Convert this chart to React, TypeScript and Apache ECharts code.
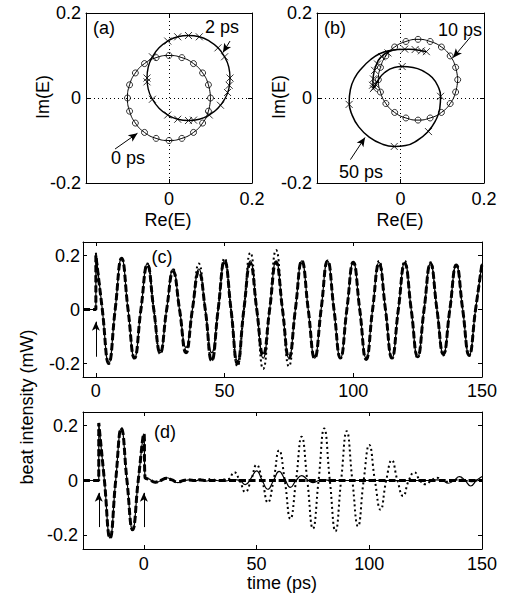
import React, { useEffect, useRef } from 'react';
import * as echarts from 'echarts';

const FONT = "'Liberation Sans', Arial, Helvetica, sans-serif";

// ---------- panel (a) ----------
// 0 ps trajectory (o markers)
const a0Re = [0.1, 0.095, 0.081, 0.059, 0.031, 0, -0.031, -0.059, -0.081, -0.095, -0.1, -0.095, -0.081, -0.059, -0.031, 0, 0.031, 0.059, 0.081, 0.095, 0.1];
const a0Im = [0, 0.031, 0.059, 0.081, 0.095, 0.1, 0.095, 0.081, 0.059, 0.031, 0, -0.031, -0.059, -0.081, -0.095, -0.1, -0.095, -0.081, -0.059, -0.031, 0];
// 2 ps trajectory (x markers)
const a2Re = [0.147, 0.144, 0.134, 0.118, 0.097, 0.073, 0.047, 0.021, -0.003, -0.024, -0.04, -0.05, -0.053, -0.05, -0.04, -0.024, -0.003, 0.021, 0.047, 0.073, 0.097, 0.118, 0.134, 0.144, 0.147];
const a2Im = [0.047, 0.073, 0.097, 0.118, 0.134, 0.144, 0.147, 0.144, 0.134, 0.118, 0.097, 0.073, 0.047, 0.021, -0.003, -0.024, -0.04, -0.05, -0.053, -0.05, -0.04, -0.024, -0.003, 0.021, 0.047];
const a2MarkRe = [0.047, 0.021, 0.073, -0.003, 0.118, -0.04, 0.134, -0.053, -0.053, 0.147, 0.145, 0.141, -0.04, -0.003, 0.021, 0.047, 0.059, 0.097, 0.124];
const a2MarkIm = [0.147, 0.144, 0.144, 0.134, 0.118, 0.097, 0.097, 0.047, 0.038, 0.047, 0.03, 0.013, -0.003, -0.04, -0.05, -0.053, -0.052, -0.04, -0.017];

// ---------- panel (b) ----------
// 10 ps trajectory (o markers)
const b10Re = [0.137, 0.132, 0.119, 0.098, 0.071, 0.042, 0.013, -0.014, -0.035, -0.048, -0.053, -0.048, -0.035, -0.014, 0.013, 0.042, 0.071, 0.098, 0.119, 0.132, 0.137];
const b10Im = [0.043, 0.072, 0.099, 0.12, 0.133, 0.138, 0.133, 0.12, 0.099, 0.072, 0.043, 0.014, -0.013, -0.034, -0.047, -0.052, -0.047, -0.034, -0.013, 0.014, 0.043];
// 50 ps trajectory (x markers)
const b50Re = [0.062, 0.04, 0.02, -0.005, -0.03, -0.048, -0.058, -0.064, -0.066, -0.065, -0.055, -0.038, -0.015, 0.004, 0.03, 0.055, 0.076, 0.09, 0.096, 0.094, 0.083, 0.065, 0.04, 0.012, -0.015, -0.045, -0.075, -0.1, -0.116, -0.123, -0.12, -0.11, -0.093, -0.072, -0.05, -0.025, 0.0];
const b50Im = [0.109, 0.113, 0.115, 0.114, 0.108, 0.095, 0.078, 0.058, 0.04, 0.022, 0.04, 0.06, 0.072, 0.074, 0.072, 0.063, 0.048, 0.027, 0.004, -0.025, -0.055, -0.08, -0.1, -0.112, -0.114, -0.108, -0.092, -0.068, -0.04, -0.01, 0.02, 0.047, 0.07, 0.09, 0.104, 0.112, 0.115];
const b50MarkRe = [-0.065, -0.062, -0.067, -0.06, -0.065, -0.062, -0.055, -0.045, -0.03, 0.01, 0.035, 0.05, 0.062, 0.004, 0.096, 0.067, -0.015, -0.123];
const b50MarkIm = [0.022, 0.026, 0.03, 0.032, 0.045, 0.065, 0.08, 0.097, 0.106, 0.115, 0.114, 0.111, 0.109, 0.074, 0.004, -0.079, -0.114, -0.015];

// ---------- panel (c) ----------
const cTime = [-5, 0, 0, 2.5, 5, 7.5, 10, 12.5, 15, 17.5, 20, 22.5, 25, 27.5, 30, 32.5, 35, 37.5, 40, 42.5, 45, 47.5, 50, 52.5, 55, 57.5, 60, 62.5, 65, 67.5, 70, 72.5, 75, 77.5, 80, 82.5, 85, 87.5, 90, 92.5, 95, 97.5, 100, 102.5, 105, 107.5, 110, 112.5, 115, 117.5, 120, 122.5, 125, 127.5, 130, 132.5, 135, 137.5, 140, 142.5, 145, 147.5, 150];
const cSolid = [0, 0, 0.21,
  0, -0.2, 0, 0.19, 0, -0.18, 0, 0.17, 0, -0.16, 0, 0.15, 0, -0.14, 0, 0.15, 0, -0.16, 0, 0.18,
  0, -0.19, 0, 0.18, 0, -0.18, 0, 0.18, 0, -0.18, 0, 0.18, 0, -0.18, 0, 0.18, 0, -0.18, 0, 0.175,
  0, -0.18, 0, 0.175, 0, -0.18, 0, 0.175, 0, -0.175, 0, 0.17, 0, -0.165, 0, 0.165, 0, -0.17, 0, 0.17];
const cDashed = [0, 0, 0.2,
  0, -0.2, 0, 0.19, 0, -0.18, 0, 0.165, 0, -0.16, 0, 0.14, 0, -0.16, 0, 0.14, 0, -0.19, 0, 0.18,
  0, -0.2, 0, 0.17, 0, -0.17, 0, 0.175, 0, -0.18, 0, 0.18, 0, -0.18, 0, 0.18, 0, -0.18, 0, 0.175,
  0, -0.185, 0, 0.17, 0, -0.18, 0, 0.17, 0, -0.175, 0, 0.17, 0, -0.165, 0, 0.165, 0, -0.17, 0, 0.17];
const cDotted = [0, 0, 0.21,
  0, -0.2, 0, 0.19, 0, -0.18, 0, 0.17, 0, -0.165, 0, 0.15, 0, -0.15, 0, 0.17, 0, -0.19, 0, 0.19,
  0, -0.21, 0, 0.21, 0, -0.22, 0, 0.22, 0, -0.21, 0, 0.18, 0, -0.18, 0, 0.18, 0, -0.18, 0, 0.175,
  0, -0.185, 0, 0.18, 0, -0.18, 0, 0.18, 0, -0.18, 0, 0.175, 0, -0.17, 0, 0.165, 0, -0.17, 0, 0.175];

// ---------- panel (d) ----------
const dTime = [-27, -20, -20, -17.5, -15, -12.5, -10, -7.5, -5, -2.5, 0, 0.5,
  2.5, 5, 7.5, 10, 12.5, 15, 17.5, 20, 22.5, 25, 27.5, 30, 32.5, 35, 37.5, 40, 42.5, 45, 47.5, 50, 52.5, 55, 57.5, 60, 62.5, 65, 67.5, 70, 72.5, 75, 77.5, 80, 82.5, 85, 87.5, 90, 92.5, 95, 97.5, 100, 102.5, 105, 107.5, 110, 112.5, 115, 117.5, 120, 122.5, 125, 127.5, 130, 132.5, 135, 137.5, 140, 142.5, 145, 147.5, 150];
const dSolid = [0, 0, 0.21, 0, -0.21, 0, 0.19, 0, -0.18, 0, 0.17, 0.012,
  0.005, -0.008, 0, 0.01, 0.003, -0.008, -0.002, 0.002, -0.002, 0.003, -0.002, 0.002, 0, -0.002, 0, 0.003,
  0, -0.015, 0.008, 0.035, 0, -0.032, 0, 0.033, 0.005, -0.025, 0, 0.018, 0.004, -0.008, 0, 0.003,
  0, 0, 0, 0, 0, 0, 0, 0, 0, 0, 0, 0, 0, 0, 0, 0, 0, 0, 0, 0.002,
  0, -0.01, 0, 0.014, 0, -0.02, 0, 0.015];
const dDashed = [0, 0, 0.21, 0, -0.21, 0, 0.19, 0, -0.18, 0, 0.17, 0.012,
  0.004, -0.006, 0, 0.008, 0.002, -0.006, 0, 0.002, 0, 0.002, 0, 0, 0, 0, 0, 0,
  0, 0, 0, 0, 0, 0, 0, 0, 0, 0, 0, 0, 0, 0, 0, 0,
  0, 0, 0, 0, 0, 0, 0, 0, 0, 0, 0, 0, 0, 0, 0, 0, 0, 0, 0, 0,
  0, 0, 0, 0, 0, 0, 0, 0];
const dDotted = [0, 0, 0.21, 0, -0.21, 0, 0.19, 0, -0.18, 0, 0.17, 0.012,
  0.004, -0.006, 0, 0.008, 0, -0.005, 0, 0.003, 0, 0.004, 0, 0.006, 0, 0.003, 0.005, 0.03,
  0, -0.042, 0, 0.057, 0, -0.08, 0, 0.11, 0, -0.14, 0, 0.16, 0, -0.176, 0, 0.19,
  0, -0.185, 0, 0.18, 0, -0.167, 0, 0.13, 0, -0.107, 0, 0.074, 0, -0.057, 0, 0.03,
  0, -0.014, 0, 0.01, 0, -0.005, 0, 0.004, 0, -0.003, 0, 0.002];

const xTicksCD = [0, 50, 100, 150];
const yTicksCD = [-0.2, 0, 0.2];

const zip = (xs: number[], ys: number[]) => xs.map((x, i) => [x, ys[i]]);

const X_SYMBOL = 'path://M0,0L10,10M0,10L10,0';

function axes(kind: 'x' | 'y', grid: number, min: number, max: number, labelMargin: number, opts: any) {
  const common: any = {
    type: 'value', gridIndex: grid, min, max,
    axisLine: { show: true, onZero: false, lineStyle: { color: '#000', width: 1 } },
    axisTick: { show: true, inside: true, length: 4, lineStyle: { color: '#000', width: 1 } },
    splitLine: { show: false },
  };
  if (opts.interval !== undefined) common.interval = opts.interval;
  if (opts.ticks) common.axisTick.customValues = opts.ticks;
  const main: any = {
    ...common,
    position: kind === 'x' ? 'bottom' : 'left',
    axisLabel: {
      show: true, margin: labelMargin, fontSize: 18, fontFamily: FONT, color: '#000',
      showMinLabel: true, showMaxLabel: true,
      formatter: opts.formatter,
    },
    splitLine: opts.split
      ? { show: true, lineStyle: { color: '#000', width: 1, type: [1, 3] } }
      : { show: false },
  };
  if (opts.ticks) main.axisLabel.customValues = opts.ticks;
  const mirror: any = { ...common, position: kind === 'x' ? 'top' : 'right', axisLabel: { show: false } };
  return [main, mirror];
}

const arrowLine = (pairs: number[][][]) => ({
  silent: true,
  symbol: ['none', 'arrow'],
  symbolSize: [6, 9],
  lineStyle: { color: '#000', width: 1, type: 'solid' },
  label: { show: false },
  emphasis: { disabled: true },
  data: pairs.map(([p, q]) => [{ coord: p }, { coord: q }]),
});

const text = (t: string, x: number, y: number, rotate = false) => ({
  type: 'text', x, y, rotation: rotate ? Math.PI / 2 : 0,
  style: {
    text: t, fontSize: 18, fontFamily: FONT, fill: '#000',
    align: 'center', verticalAlign: 'middle', textAlign: 'center', textVerticalAlign: 'middle',
  },
});

const fmtHideNeg = (v: number) => (v < -0.1 ? '' : String(Math.round(v * 10) / 10));
const fmtY = (v: number) => String(Math.round(v * 10) / 10);

const lineS = (data: number[][], xi: number, yi: number, width: number, type: any, extra: any = {}) => ({
  type: 'line', data, xAxisIndex: xi, yAxisIndex: yi, smooth: 0.5, showSymbol: false, symbol: 'none',
  lineStyle: { color: '#000', width, type }, itemStyle: { color: '#000' }, silent: true, z: 3, ...extra,
});

const markS = (data: number[][], xi: number, yi: number, symbol: string, size = 6) => ({
  type: 'scatter', data, xAxisIndex: xi, yAxisIndex: yi, symbol, symbolSize: size, silent: true, z: 4,
  itemStyle: { color: 'none', borderColor: '#000', borderWidth: 1 },
});

const option: any = {
  animation: false,
  backgroundColor: '#fff',
  grid: [
    { left: 86, top: 13, width: 166, height: 170 },
    { left: 317, top: 13, width: 167, height: 170 },
    { left: 83, top: 242, width: 399, height: 135 },
    { left: 83, top: 412, width: 399, height: 137 },
  ],
  xAxis: [
    ...axes('x', 0, -0.2, 0.2, 7, { interval: 0.2, formatter: fmtHideNeg, split: true }),
    ...axes('x', 1, -0.2, 0.2, 7, { interval: 0.2, formatter: fmtHideNeg, split: true }),
    ...axes('x', 2, -5, 150, 5, { ticks: xTicksCD }),
    ...axes('x', 3, -27, 150, 6, { ticks: xTicksCD }),
  ],
  yAxis: [
    ...axes('y', 0, -0.2, 0.2, 5, { interval: 0.2, formatter: fmtY, split: true }),
    ...axes('y', 1, -0.2, 0.2, 5, { interval: 0.2, formatter: fmtY, split: true }),
    ...axes('y', 2, -0.25, 0.25, 3, { ticks: yTicksCD, formatter: fmtY }),
    ...axes('y', 3, -0.25, 0.25, 5, { ticks: yTicksCD, formatter: fmtY }),
  ],
  series: [
    // (a)
    lineS(zip(a0Re, a0Im), 0, 0, 1, 'solid', {
      markLine: arrowLine([[[-0.13, -0.12], [-0.076, -0.083]]]),
    }),
    markS(zip(a0Re.slice(0, -1), a0Im.slice(0, -1)), 0, 0, 'circle'),
    lineS(zip(a2Re, a2Im), 0, 0, 1.4, 'solid', {
      markLine: arrowLine([[[0.147, 0.134], [0.13, 0.107]]]),
    }),
    markS(zip(a2MarkRe, a2MarkIm), 0, 0, X_SYMBOL, 7),
    // (b)
    lineS(zip(b10Re, b10Im), 2, 2, 1, 'solid', {
      markLine: arrowLine([[[0.168, 0.144], [0.126, 0.095]]]),
    }),
    markS(zip(b10Re.slice(0, -1), b10Im.slice(0, -1)), 2, 2, 'circle'),
    lineS(zip(b50Re, b50Im), 2, 2, 1.5, 'solid', {
      markLine: arrowLine([[[-0.12, -0.145], [-0.085, -0.093]]]),
    }),
    markS(zip(b50MarkRe, b50MarkIm), 2, 2, X_SYMBOL, 7),
    // (c)
    lineS(zip(cTime, cDotted), 4, 4, 2, [2, 3]),
    lineS(zip(cTime, cSolid), 4, 4, 1.2, 'solid', {
      markLine: arrowLine([[[0, -0.175], [0, -0.045]]]),
    }),
    lineS(zip(cTime, cDashed), 4, 4, 3, [7, 3]),
    // (d)
    lineS(zip(dTime, dDotted), 6, 6, 2, [2, 3]),
    lineS(zip(dTime, dSolid), 6, 6, 1.2, 'solid', {
      markLine: arrowLine([[[-20, -0.17], [-20, -0.045]], [[0, -0.17], [0, -0.045]]]),
    }),
    lineS(zip(dTime, dDashed), 6, 6, 3, [7, 3]),
  ],
  graphic: [
    text('(a)', 104, 28),
    text('(b)', 335, 28),
    text('2 ps', 222, 27),
    text('0 ps', 128, 158),
    text('10 ps', 460, 30),
    text('50 ps', 361, 172),
    text('(c)', 162, 257),
    text('(d)', 165, 432),
    text('Re(E)', 168, 220),
    text('Re(E)', 400, 220),
    text('Im(E)', 43, 97, true),
    text('Im(E)', 279, 97, true),
    text('beat intensity (mW)', 27, 407, true),
    text('time (ps)', 282, 583),
  ],
};

export default function App() {
  const ref = useRef<HTMLDivElement>(null);
  useEffect(() => {
    const chart = echarts.init(ref.current!, null, { renderer: 'svg' });
    chart.setOption(option);
    return () => chart.dispose();
  }, []);
  return (
    <div
      ref={ref}
      style={{ position: 'fixed', left: 0, top: 0, width: 508, height: 605, background: '#fff' }}
    />
  );
}
